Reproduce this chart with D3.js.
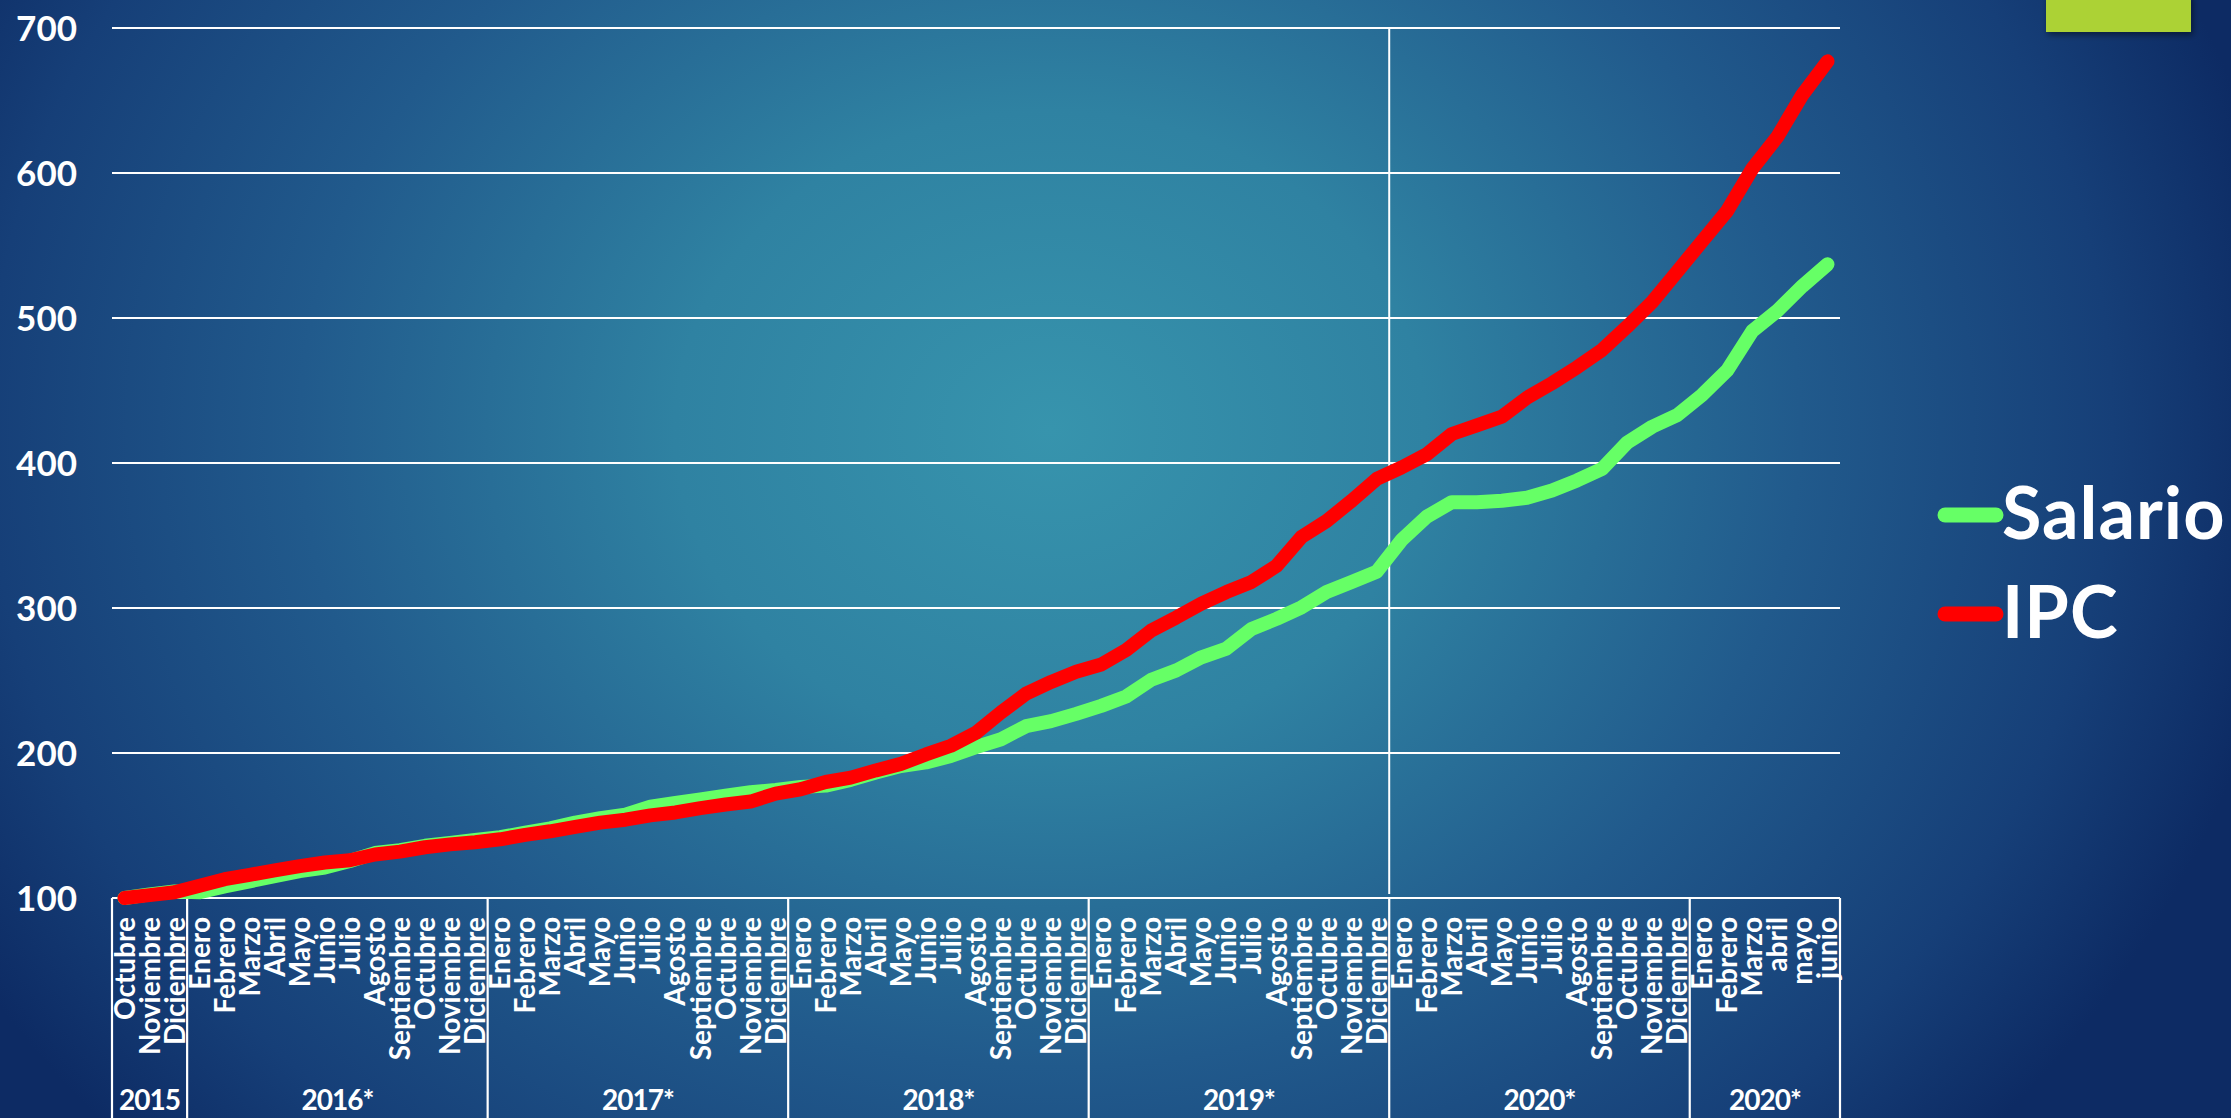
<!DOCTYPE html>
<html>
<head>
<meta charset="utf-8">
<script src="https://cdn.jsdelivr.net/npm/d3@7"></script>
<style>
  html, body { margin: 0; padding: 0; background: #123a74; }
  svg { display: block; }
  text { font-family: Lato, "Open Sans", sans-serif; fill: #ffffff; font-weight: 700; }
</style>
</head>
<body>
<svg id="chart" width="2231" height="1118"></svg>
<script>
// ---------- DATA ----------
const months = [
  "Octubre","Noviembre","Diciembre",
  "Enero","Febrero","Marzo","Abril","Mayo","Junio","Julio","Agosto","Septiembre","Octubre","Noviembre","Diciembre",
  "Enero","Febrero","Marzo","Abril","Mayo","Junio","Julio","Agosto","Septiembre","Octubre","Noviembre","Diciembre",
  "Enero","Febrero","Marzo","Abril","Mayo","Junio","Julio","Agosto","Septiembre","Octubre","Noviembre","Diciembre",
  "Enero","Febrero","Marzo","Abril","Mayo","Junio","Julio","Agosto","Septiembre","Octubre","Noviembre","Diciembre",
  "Enero","Febrero","Marzo","Abril","Mayo","Junio","Julio","Agosto","Septiembre","Octubre","Noviembre","Diciembre",
  "Enero","Febrero","Marzo","abril","mayo","junio"
];
const yearLabels = ["2015","2016*","2017*","2018*","2019*","2020*","2020*"];
const yearCounts = [3,12,12,12,12,12,6];

const salario = [
  100,102.5,104.5,
  104,108,111.5,115,118.5,121,125.5,131,133,136,138,140,
  142,145,148,152,155,157.5,163,165.5,168,170.5,173,174.5,
  176.5,177.5,181.5,186.5,191,193.5,198,204,209.5,218.5,222,227,
  232.5,239,250.5,257,266,272,285.5,292.5,300.5,311,318,325,
  347,363,373,373,374,376,381,388,396,414,425,433,
  447,464,491,505,522,537
];
const ipc = [
  100,102,104,
  108.5,113,116,119,122,124.5,126,130,132,135,137,138.5,
  140.5,143.5,146,149,152,154,157,159,162,164.5,166.5,172,
  175,180,183,188,192.5,199,205,214,228,241,249,256,
  261,271,284.5,293.5,303,311,318,329,349,360,374,389,
  397,406,420,426,432,445,455,466,478,494,511,532,
  553,574,603,625,654,677
];
const yTicks = [100,200,300,400,500,600,700];
const seriesNames = ["Salario","IPC"];
const seriesColors = ["#66ff66","#ff0000"];

// ---------- SETUP ----------
const svg = d3.select("#chart");
const W = 2231, H = 1118;

const defs = svg.append("defs");
const grad = defs.append("radialGradient")
  .attr("id","bg").attr("gradientUnits","userSpaceOnUse")
  .attr("cx",1050).attr("cy",430).attr("r",1250)
  .attr("gradientTransform","translate(1050,430) scale(1,0.85) translate(-1050,-430)");
[[0,"#3794ad"],[0.3,"#2f82a2"],[0.6,"#215a8c"],[0.85,"#163f78"],[1,"#0d2b64"]]
  .forEach(s => grad.append("stop").attr("offset",s[0]).attr("stop-color",s[1]));
const shadow = defs.append("filter").attr("id","shadow").attr("x","-10%").attr("y","-20%").attr("width","130%").attr("height","160%");
shadow.append("feDropShadow").attr("dx",2).attr("dy",3).attr("stdDeviation",3).attr("flood-color","#000").attr("flood-opacity",0.45);

svg.append("rect").attr("width",W).attr("height",H).attr("fill","url(#bg)");

// decorative green block top right
svg.append("rect").attr("x",2046).attr("y",-5).attr("width",145).attr("height",37)
  .attr("fill","#acd234").attr("filter","url(#shadow)");

const x = d3.scaleBand().domain(d3.range(months.length)).range([112,1840]).paddingInner(0).paddingOuter(0);
const y = d3.scaleLinear().domain([100,700]).range([898,28]);
const bw = x.bandwidth();

// gridlines
svg.append("g").selectAll("line").data(yTicks).join("line")
  .attr("x1",112).attr("x2",1840)
  .attr("y1",d=>y(d)).attr("y2",d=>y(d))
  .attr("stroke","#ffffff").attr("stroke-width",2.2);

// y tick labels
svg.append("g").selectAll("text").data(yTicks).join("text")
  .attr("x",77).attr("y",d=>y(d)).attr("dy","0.36em")
  .attr("text-anchor","end").attr("font-size",35)
  .text(d=>d);

// vertical marker line at start of 2020
const startIdx = yearCounts.slice(0,5).reduce((a,b)=>a+b,0);
svg.append("line")
  .attr("x1",x(startIdx)).attr("x2",x(startIdx))
  .attr("y1",y(700)).attr("y2",y(100)-4)
  .attr("stroke","#ffffff").attr("stroke-width",2);

// table dividers
let acc = 0;
const bounds = [0];
yearCounts.forEach(c => { acc += c; bounds.push(acc); });
svg.append("g").selectAll("line").data(bounds).join("line")
  .attr("x1",d=> d===months.length ? 1840 : x(d))
  .attr("x2",d=> d===months.length ? 1840 : x(d))
  .attr("y1",898).attr("y2",H)
  .attr("stroke","#ffffff").attr("stroke-width",2.2);

// month labels
svg.append("g").selectAll("text").data(months).join("text")
  .attr("transform",(d,i)=>`translate(${x(i)+bw/2+10},917) rotate(-90)`)
  .attr("text-anchor","end").attr("font-size",28)
  .text(d=>d);

// year labels
svg.append("g").selectAll("text").data(yearLabels).join("text")
  .attr("x",(d,i)=>{
    const a = x(bounds[i]);
    const b = bounds[i+1]===months.length ? 1840 : x(bounds[i+1]);
    return (a+b)/2;
  })
  .attr("y",1110).attr("text-anchor","middle").attr("font-size",28)
  .attr("letter-spacing","-1px")
  .text(d=>d);

// lines
const line = d3.line().x((d,i)=>x(i)+bw/2).y(d=>y(d));
[salario, ipc].forEach((s,k)=>{
  svg.append("path").datum(s)
    .attr("d",line).attr("fill","none")
    .attr("stroke",seriesColors[k]).attr("stroke-width",14)
    .attr("stroke-linecap","round").attr("stroke-linejoin","round");
});

// legend
const legY = [515,614];
seriesNames.forEach((n,k)=>{
  svg.append("line").attr("x1",1945).attr("x2",1996)
    .attr("y1",legY[k]).attr("y2",legY[k])
    .attr("stroke",seriesColors[k]).attr("stroke-width",15).attr("stroke-linecap","round");
  svg.append("text").attr("x",2002).attr("y",legY[k]+24)
    .attr("font-size",72).attr("letter-spacing","1px").text(n);
});
</script>
</body>
</html>
